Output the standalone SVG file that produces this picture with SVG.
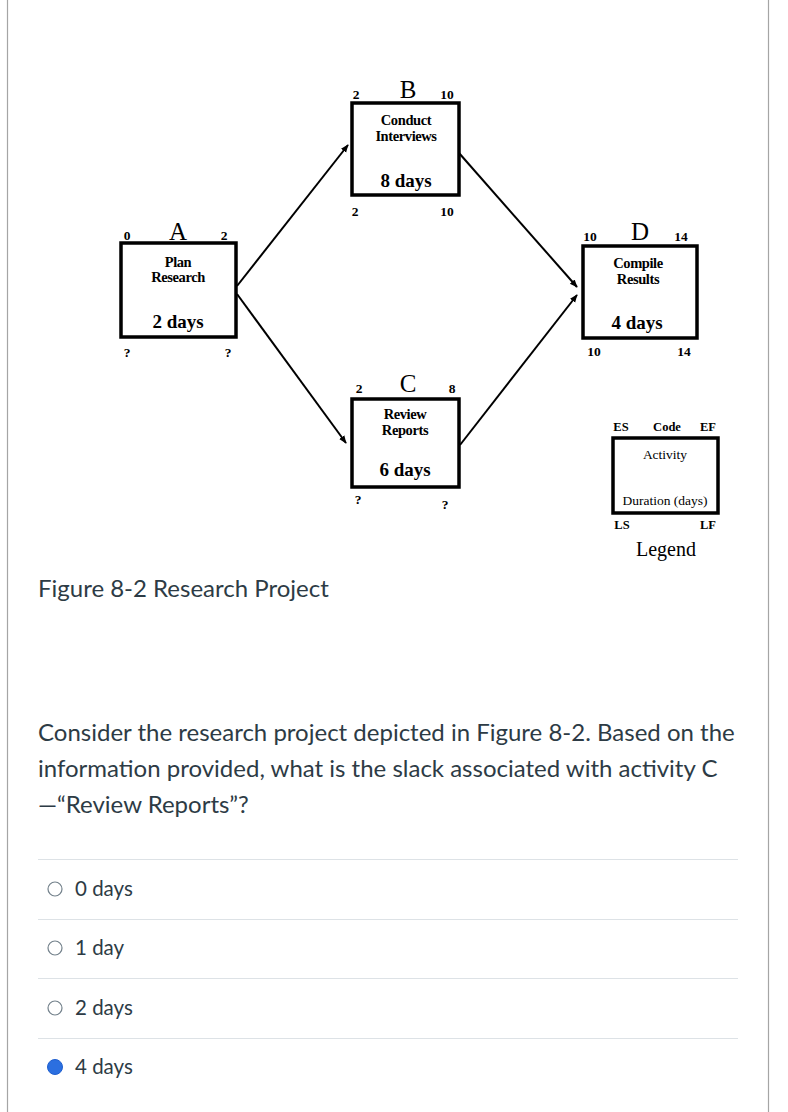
<svg xmlns="http://www.w3.org/2000/svg" width="788" height="1112" viewBox="0 0 788 1112">
<style>
.box{fill:#fff;stroke:#000;stroke-width:3.5}
.num{font-family:"Liberation Serif",serif;font-weight:bold;font-size:13.5px;fill:#000;text-anchor:middle}
.code{font-family:"Liberation Serif",serif;font-size:25px;fill:#000;text-anchor:middle}
.act{font-family:"Liberation Serif",serif;font-weight:bold;font-size:14.5px;fill:#000;text-anchor:middle;letter-spacing:-0.4px}
.dur{font-family:"Liberation Serif",serif;font-weight:bold;font-size:19px;fill:#000;text-anchor:middle}
.leg{font-family:"Liberation Serif",serif;font-size:13.5px;fill:#000;text-anchor:middle}
.legb{font-family:"Liberation Serif",serif;font-weight:bold;font-size:12.5px;fill:#000;text-anchor:middle}
.legt{font-family:"Liberation Serif",serif;font-size:20px;fill:#000;text-anchor:middle}
.page{font-family:Lato,"Liberation Sans",sans-serif;fill:#2d3b45}
.big{font-size:24px}
.opt{font-size:20.5px}
.sep{stroke:#dde2e6;stroke-width:1.2}
.conn{stroke:#000;stroke-width:2;fill:none}
.radio{fill:#fff;stroke:#73818b;stroke-width:1.2}
</style>
<defs>
<marker id="arr" viewBox="0 0 10 10" refX="9" refY="5" markerWidth="4" markerHeight="4" orient="auto" markerUnits="strokeWidth">
<path d="M0,1 L10,5 L0,9 z" fill="#000"/>
</marker>
</defs>
<rect x="0" y="0" width="788" height="1112" fill="#fff"/>
<line x1="7.5" y1="0" x2="7.5" y2="1112" stroke="#a5a5a5" stroke-width="1.2"/>
<line x1="768.5" y1="0" x2="768.5" y2="1112" stroke="#a5a5a5" stroke-width="1.2"/>

<g id="connectors">
<line class="conn" x1="237" y1="286" x2="348" y2="145" marker-end="url(#arr)"/>
<line class="conn" x1="237" y1="294" x2="346" y2="443" marker-end="url(#arr)"/>
<line class="conn" x1="459" y1="153" x2="577" y2="287" marker-end="url(#arr)"/>
<line class="conn" x1="460" y1="445" x2="577" y2="295" marker-end="url(#arr)"/>
</g>

<g id="node-A">
<rect class="box" x="121" y="243" width="115" height="94"/>
<text class="num" x="127" y="240">0</text>
<text class="code" x="178" y="240">A</text>
<text class="num" x="224" y="240">2</text>
<text class="act" x="178" y="267">Plan</text>
<text class="act" x="178" y="282">Research</text>
<text class="dur" x="178" y="328">2 days</text>
<text class="num" x="127" y="357">?</text>
<text class="num" x="228" y="357">?</text>
</g>

<g id="node-B">
<rect class="box" x="352" y="103" width="107" height="92"/>
<text class="num" x="356" y="99">2</text>
<text class="code" x="408" y="98">B</text>
<text class="num" x="447" y="99">10</text>
<text class="act" x="406" y="125">Conduct</text>
<text class="act" x="406" y="141">Interviews</text>
<text class="dur" x="406" y="187">8 days</text>
<text class="num" x="355" y="216">2</text>
<text class="num" x="447" y="216">10</text>
</g>

<g id="node-C">
<rect class="box" x="352" y="399" width="107" height="88"/>
<text class="num" x="359" y="393">2</text>
<text class="code" x="408" y="392">C</text>
<text class="num" x="452" y="393">8</text>
<text class="act" x="405" y="419">Review</text>
<text class="act" x="405" y="435">Reports</text>
<text class="dur" x="405" y="476">6 days</text>
<text class="num" x="358" y="504">?</text>
<text class="num" x="445" y="509">?</text>
</g>

<g id="node-D">
<rect class="box" x="583" y="246" width="114" height="92"/>
<text class="num" x="590" y="241">10</text>
<text class="code" x="640" y="240">D</text>
<text class="num" x="681" y="241">14</text>
<text class="act" x="638" y="268">Compile</text>
<text class="act" x="638" y="284">Results</text>
<text class="dur" x="637" y="329">4 days</text>
<text class="num" x="594" y="356">10</text>
<text class="num" x="684" y="356">14</text>
</g>

<g id="legend">
<rect class="box" x="613" y="438" width="105" height="75"/>
<text class="legb" x="621" y="431">ES</text>
<text class="legb" x="667" y="431">Code</text>
<text class="legb" x="708" y="431">EF</text>
<text class="leg" x="665" y="459">Activity</text>
<text class="leg" x="665" y="505">Duration (days)</text>
<text class="legb" x="622" y="529">LS</text>
<text class="legb" x="708" y="529">LF</text>
<text class="legt" x="666" y="556">Legend</text>
</g>

<g id="caption">
<text class="page big" x="38" y="597">Figure 8-2 Research Project</text>
</g>

<g id="question">
<text class="page big" x="38" y="741">Consider the research project depicted in Figure 8-2. Based on the</text>
<text class="page big" x="38" y="777">information provided, what is the slack associated with activity C</text>
<text class="page big" x="38" y="813">—“Review Reports”?</text>
</g>

<g id="answers">
<line class="sep" x1="38" y1="859.5" x2="738" y2="859.5"/>
<line class="sep" x1="38" y1="919.5" x2="738" y2="919.5"/>
<line class="sep" x1="38" y1="978.5" x2="738" y2="978.5"/>
<line class="sep" x1="38" y1="1038.5" x2="738" y2="1038.5"/>
<g id="opt-0"><circle class="radio" cx="55" cy="889" r="7"/><text class="page opt" x="75" y="896">0 days</text></g>
<g id="opt-1"><circle class="radio" cx="55" cy="948" r="7"/><text class="page opt" x="75" y="955">1 day</text></g>
<g id="opt-2"><circle class="radio" cx="55" cy="1008" r="7"/><text class="page opt" x="75" y="1015">2 days</text></g>
<g id="opt-4"><circle cx="55" cy="1067" r="7.5" fill="#2b6fe0" stroke="#1f5fcf" stroke-width="1"/><text class="page opt" x="75" y="1074">4 days</text></g>
</g>
</svg>
